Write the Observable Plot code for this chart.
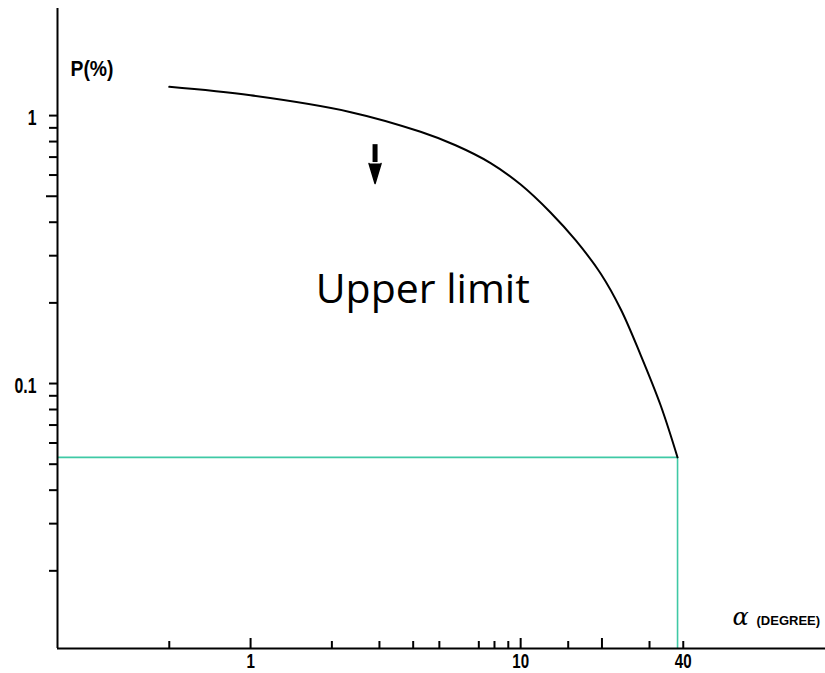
<!DOCTYPE html>
<html>
<head>
<meta charset="utf-8">
<script src="https://cdn.jsdelivr.net/npm/d3@7"></script>
<script src="https://cdn.jsdelivr.net/npm/@observablehq/plot@0.6"></script>
<style>
  body { margin: 0; background: #fff; }
  #chart svg { display: block; }
</style>
</head>
<body>
<div id="chart"></div>
<script>
// Upper limit of P(%) as a function of the opening angle alpha (degrees)
const alpha = [0.5, 1, 2.35, 4.26, 5.74, 7.74, 10, 12.9, 16.0, 19.8, 23.5, 27.8, 33.0, 38.1];
const prob  = [1.28, 1.19, 1.03, 0.87, 0.775, 0.665, 0.553, 0.435, 0.342, 0.257, 0.189, 0.128, 0.0828, 0.053];

// Axis ticks
const xMinorTicks = [0.5, 2, 3, 4, 5, 7, 8, 9, 15, 30, 40];
const xMajorTicks = [1, 10, 20];
const xTickLabels = [1, 10, 40];
const yTicks = [1, 0.9, 0.8, 0.7, 0.6, 0.4, 0.3, 0.2, 0.1, 0.09, 0.08, 0.07, 0.06, 0.05, 0.04, 0.03, 0.02];
const yLongTicks = [0.5];
const yTickLabels = [1, 0.1];

// Downward arrow marking the limit
const arrowAlpha = 2.89;
const arrowShaft = [0.779, 0.668];
const arrowHeadTop = 0.662;

const xDomain = [0.1928, 134.5];
const yDomain = [0.01026, 2.51];
const green = "#3fc9a5";
const labelFont = "'Liberation Sans', Arial, sans-serif";

const W = 825, H = 673;
const M = {left: 57, right: 0, top: 8, bottom: 25};
const frameW = W - M.left - M.right;
const frameH = H - M.top - M.bottom;

const data = alpha.map((a, i) => ({alpha: a, p: prob[i]}));
const limit = data[data.length - 1];

// x ticks point up from the bottom axis, y ticks point left from the left axis
const xTick = (ticks, len) => Plot.ruleX(ticks, {insetTop: frameH - len, stroke: "black", strokeWidth: 2});
const yTick = (ticks, len) => Plot.ruleY(ticks, {insetLeft: -len, insetRight: frameW, stroke: "black", strokeWidth: 2});

const chart = Plot.plot({
  width: W,
  height: H,
  marginLeft: M.left,
  marginRight: M.right,
  marginTop: M.top,
  marginBottom: M.bottom,
  x: {type: "log", domain: xDomain, axis: null},
  y: {type: "log", domain: yDomain, axis: null},
  style: {background: "white", color: "black", fontFamily: labelFont},
  marks: [
    // limit read-off lines
    Plot.ruleY([limit], {x1: xDomain[0], x2: "alpha", y: "p", stroke: green, strokeWidth: 1.6}),
    Plot.ruleX([limit], {x: "alpha", y1: yDomain[0], y2: "p", stroke: green, strokeWidth: 1.6}),
    // curve
    Plot.line(data, {x: "alpha", y: "p", curve: "catmull-rom", stroke: "black", strokeWidth: 2}),
    // axis lines
    Plot.ruleX([xDomain[0]], {stroke: "black", strokeWidth: 2}),
    Plot.ruleY([yDomain[0]], {stroke: "black", strokeWidth: 2}),
    // ticks
    xTick(xMinorTicks, 7),
    xTick(xMajorTicks, 10),
    yTick(yTicks, 8),
    yTick(yLongTicks, 11),
    // tick labels
    Plot.text(xTickLabels, {x: d => d, frameAnchor: "bottom", lineAnchor: "top", dy: 5,
      text: d => String(d), fontSize: 21, fontWeight: "bold", fill: "black", ariaDescription: "narrow-tick"}),
    Plot.text(yTickLabels, {y: d => d, frameAnchor: "left", textAnchor: "end", lineAnchor: "middle",
      dx: -21, dy: 2, text: d => String(d), fontSize: 22, fontWeight: "bold", fill: "black", ariaDescription: "narrow-tick"}),
    // axis titles
    Plot.text(["P(%)"], {frameAnchor: "top-left", dx: 13, dy: 52, textAnchor: "start",
      fontSize: 22, fontWeight: "bold", fill: "black", ariaDescription: "narrow-title"}),
    Plot.text(["α"], {frameAnchor: "bottom-right", dx: -85, dy: -24, textAnchor: "middle",
      fontSize: 24, fontStyle: "italic", fontFamily: "'DejaVu Serif', serif", fill: "black"}),
    Plot.text(["(DEGREE)"], {frameAnchor: "bottom-right", dx: -69, dy: -24, textAnchor: "start",
      fontSize: 13, fontWeight: "bold", fill: "black", letterSpacing: "0.5px"}),
    // arrow
    Plot.ruleX([arrowAlpha], {y1: arrowShaft[0], y2: arrowShaft[1], stroke: "black", strokeWidth: 5}),
    Plot.vector([arrowAlpha], {x: d => d, y: arrowHeadTop, length: 20, r: 6, shape: "spike",
      rotate: 180, anchor: "start", fill: "black", stroke: "black"}),
    // annotation
    Plot.text(["Upper limit"], {x: 4.34, y: 0.224, textAnchor: "middle",
      fontSize: 41, fontFamily: "'Open Sans', sans-serif", fill: "black"})
  ]
});

// narrow (condensed) lettering for the tick labels and the P(%) title
const squeeze = {"narrow-tick": 0.72, "narrow-title": 0.88};
for (const [desc, k] of Object.entries(squeeze)) {
  chart.querySelectorAll(`g[aria-description="${desc}"] text`).forEach(t => {
    const tr = t.getAttribute("transform") || "";
    t.setAttribute("transform", `${tr} scale(${k},1)`);
  });
}

document.getElementById("chart").append(chart);
</script>
</body>
</html>
